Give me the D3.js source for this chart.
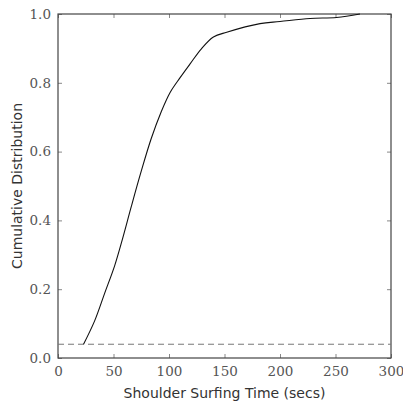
<!DOCTYPE html>
<html>
<head>
<meta charset="utf-8">
<script src="https://cdn.jsdelivr.net/npm/d3@7"></script>
<style>
  body { margin: 0; background: #fff; }
  .tick text { font-family: "DejaVu Serif", serif; font-size: 13.5px; fill: #555; }
  .axis-title { font-family: "DejaVu Sans", sans-serif; font-size: 14px; fill: #333; }
</style>
</head>
<body>
<svg id="chart"></svg>
<script>
// shoulder surfing time (secs) vs cumulative fraction
var times = [23, 33, 42, 51, 58, 66, 75, 84, 93, 101, 110, 119, 129, 140, 152, 182, 200, 227, 251, 272];
var cdf   = [0.04, 0.108, 0.188, 0.268, 0.345, 0.44, 0.543, 0.638, 0.716, 0.772, 0.815, 0.855, 0.898, 0.933, 0.947, 0.972, 0.978, 0.987, 0.99, 1.0];
var baseline = 0.04;
var xTicks = [0, 50, 100, 150, 200, 250, 300];
var yTicks = [0.0, 0.2, 0.4, 0.6, 0.8, 1.0];

var width = 403, height = 406;
var margin = {top: 14, right: 12, bottom: 48, left: 58};

var svg = d3.select("#chart")
    .attr("width", width)
    .attr("height", height);

var x = d3.scaleLinear().domain([0, 300]).range([margin.left, width - margin.right]);
var y = d3.scaleLinear().domain([0, 1]).range([height - margin.bottom, margin.top]);

var axisColor = "#444";

function styleAxis(g) {
    g.select(".domain").remove();
    g.selectAll(".tick line").attr("stroke", "#888");
}

// bottom + left with labels, ticks pointing inward
svg.append("g")
    .attr("transform", "translate(0," + y(0) + ")")
    .call(d3.axisBottom(x).tickValues(xTicks).tickSizeInner(-4).tickSizeOuter(0).tickPadding(8).tickFormat(d3.format("d")))
    .call(styleAxis);

svg.append("g")
    .attr("transform", "translate(" + x(0) + ",0)")
    .call(d3.axisLeft(y).tickValues(yTicks).tickSizeInner(-4).tickSizeOuter(0).tickPadding(7).tickFormat(d3.format(".1f")))
    .call(styleAxis);

// top + right, ticks only
svg.append("g")
    .attr("transform", "translate(0," + y(1) + ")")
    .call(d3.axisTop(x).tickValues(xTicks).tickSizeInner(-4).tickSizeOuter(0).tickFormat(""))
    .call(styleAxis);

svg.append("g")
    .attr("transform", "translate(" + x(300) + ",0)")
    .call(d3.axisRight(y).tickValues(yTicks).tickSizeInner(-4).tickSizeOuter(0).tickFormat(""))
    .call(styleAxis);

// frame
svg.append("rect")
    .attr("x", x(0))
    .attr("y", y(1))
    .attr("width", x(300) - x(0))
    .attr("height", y(0) - y(1))
    .attr("fill", "none")
    .attr("stroke", axisColor)
    .attr("stroke-width", 1.2);

// dashed baseline
svg.append("line")
    .attr("x1", x(0))
    .attr("x2", x(300))
    .attr("y1", y(baseline))
    .attr("y2", y(baseline))
    .attr("stroke", "#777")
    .attr("stroke-width", 1)
    .attr("stroke-dasharray", "6,4");

var line = d3.line()
    .x(function(d, i) { return x(times[i]); })
    .y(function(d) { return y(d); })
    .curve(d3.curveCatmullRom.alpha(0.5));

svg.append("path")
    .datum(cdf)
    .attr("d", line)
    .attr("fill", "none")
    .attr("stroke", "#111")
    .attr("stroke-width", 1.1);

svg.append("text")
    .attr("class", "axis-title")
    .attr("x", (x(0) + x(300)) / 2)
    .attr("y", 398)
    .attr("text-anchor", "middle")
    .text("Shoulder Surfing Time (secs)");

svg.append("text")
    .attr("class", "axis-title")
    .attr("transform", "translate(22," + ((y(0) + y(1)) / 2) + ") rotate(-90)")
    .attr("text-anchor", "middle")
    .text("Cumulative Distribution");
</script>
</body>
</html>
